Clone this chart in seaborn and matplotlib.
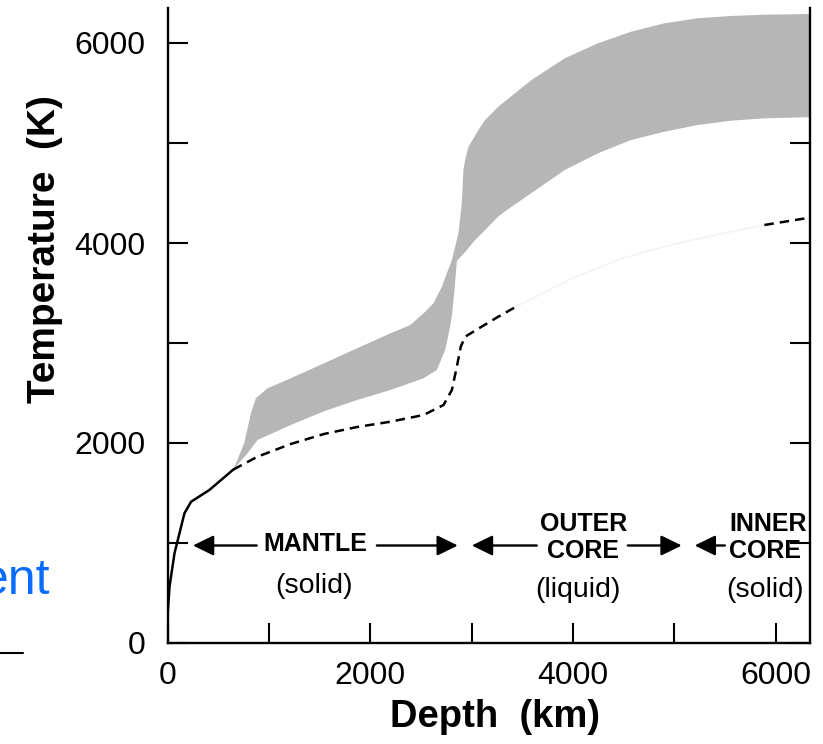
import numpy as np
import matplotlib
matplotlib.use("Agg")
import matplotlib.pyplot as plt
from matplotlib.lines import Line2D
import seaborn as sns

# Temperature profile through the Earth (depth in km, temperature in K)
geotherm_depth = [0, 20, 69, 118, 167, 233, 413, 650]
geotherm_temp = [270, 563, 897, 1097, 1297, 1413, 1530, 1735]

adiabat_depth = [650, 888, 1216, 1544, 1871, 2200, 2527, 2724, 2806, 2855,
                 2894, 2937, 3100, 3264, 3440]
adiabat_temp = [1735, 1863, 1990, 2090, 2160, 2213, 2280, 2380, 2530, 2763,
                2963, 3063, 3163, 3263, 3363]

core_trace_depth = [3440, 4000, 4500, 5000, 5500, 5890]
core_trace_temp = [3363, 3650, 3850, 3990, 4100, 4180]

inner_depth = [5890, 6340]
inner_temp = [4180, 4254]

# Melting-temperature band: upper and lower edges
band_upper_depth = [650, 757, 823, 872, 986, 1216, 1544, 1871, 2200, 2396,
                    2527, 2625, 2707, 2806, 2871, 2904, 2920, 2937, 2970, 3068,
                    3134, 3264, 3592, 3920, 4248, 4575, 4904, 5231, 5559, 5887,
                    6340]
band_upper_temp = [1735, 1997, 2297, 2447, 2547, 2647, 2797, 2947, 3097, 3180,
                   3297, 3397, 3563, 3830, 4097, 4397, 4730, 4830, 4963, 5130,
                   5230, 5363, 5630, 5847, 5997, 6113, 6197, 6247, 6270, 6283,
                   6290]
band_lower_depth = [650, 790, 888, 1216, 1544, 1871, 2200, 2527, 2658, 2740,
                    2789, 2810, 2822, 2835, 2855, 2937, 3035, 3134, 3264, 3363,
                    3592, 3920, 4248, 4575, 4904, 5231, 5559, 5887, 6340]
band_lower_temp = [1735, 1897, 2030, 2180, 2317, 2430, 2530, 2647, 2730, 2930,
                   3163, 3300, 3430, 3563, 3820, 3910, 4030, 4130, 4265, 4340,
                   4500, 4730, 4897, 5030, 5113, 5180, 5223, 5247, 5258]

x_ticks = [0, 1000, 2000, 3000, 4000, 5000, 6000]
x_tick_labels = ["0", "", "2000", "", "4000", "", "6000"]
y_ticks = [0, 1000, 2000, 3000, 4000, 5000, 6000]
y_tick_labels = ["0", "", "2000", "", "4000", "", "6000"]

sns.set_theme(style="ticks")
plt.rcParams["font.family"] = ["Liberation Sans", "DejaVu Sans"]
plt.rcParams.update({
    "text.color": "black",
    "axes.labelcolor": "black",
    "xtick.color": "black",
    "ytick.color": "black",
    "axes.edgecolor": "black",
})

W, H = 823, 744
fig = plt.figure(figsize=(W / 100, H / 100), dpi=100)
ax = fig.add_axes([167.5 / W, 1 - 643 / H, (810 - 167.5) / W, (643 - 8) / H])

# shaded band
poly_x = np.r_[band_upper_depth, band_lower_depth[::-1]]
poly_y = np.r_[band_upper_temp, band_lower_temp[::-1]]
ax.fill(poly_x, poly_y, color="#b6b6b6", lw=0, zorder=1)

# temperature curves
sns.lineplot(x=geotherm_depth, y=geotherm_temp, sort=False, estimator=None,
             ax=ax, color="black", lw=1.8, zorder=3)
sns.lineplot(x=adiabat_depth, y=adiabat_temp, sort=False, estimator=None,
             ax=ax, color="black", lw=1.8, linestyle=(0, (3.8, 2.4)), zorder=3)
sns.lineplot(x=core_trace_depth, y=core_trace_temp, sort=False, estimator=None,
             ax=ax, color="#f4f4f4", lw=1.2, zorder=2)
sns.lineplot(x=inner_depth, y=inner_temp, sort=False, estimator=None,
             ax=ax, color="black", lw=1.8, linestyle=(0, (3.8, 2.4)), zorder=3)

ax.set_xlim(0, 6340)
ax.set_ylim(0, 6350)
ax.set_xticks(x_ticks)
ax.set_xticklabels(x_tick_labels)
ax.set_yticks(y_ticks)
ax.set_yticklabels(y_tick_labels)

ax.tick_params(axis="both", direction="in", length=14.4, width=1.5,
               labelsize=23, colors="black")
ax.tick_params(axis="x", pad=13, top=False)
ax.tick_params(axis="y", pad=16, right=True)

for side in ("left", "bottom", "right"):
    ax.spines[side].set_linewidth(1.7)
    ax.spines[side].set_color("black")
ax.spines["top"].set_visible(False)

ax.set_xlabel("Depth  (km)", fontsize=27.5, fontweight="bold", color="black")
ax.set_ylabel("Temperature  (K)", fontsize=28, fontweight="bold",
              color="black")
ax.xaxis.set_label_coords(0.51, -0.088)
ax.yaxis.set_label_coords(-0.163, 0.621)

# region labels with arrows
arrow_kw = dict(arrowstyle="-|>,head_length=0.45,head_width=0.22",
                color="black", lw=1.7, shrinkA=0, shrinkB=0,
                mutation_scale=28)
arrow_T = 975
for tail, tip in [(880, 251), (2066, 2865), (3644, 3003), (4542, 5074),
                  (5500, 5202)]:
    ax.annotate("", xy=(tip, arrow_T), xytext=(tail, arrow_T),
                arrowprops=arrow_kw, zorder=4)

bold_kw = dict(fontsize=18, fontweight="bold", ha="center", va="center",
               color="black")
reg_kw = dict(fontsize=20.5, ha="center", va="center", color="black")
ax.text(1455, 990, "MANTLE", **bold_kw,
        bbox=dict(facecolor="white", edgecolor="none", pad=1))
ax.text(1445, 570, "(solid)", **reg_kw)
ax.text(4107, 1190, "OUTER", **bold_kw)
ax.text(4103, 920, "CORE", **bold_kw)
ax.text(4048, 530, "(liquid)", **reg_kw)
ax.text(5927, 1190, "INNER", **bold_kw)
ax.text(5893, 920, "CORE", **bold_kw)
ax.text(5893, 530, "(solid)", **reg_kw)

# slide fragments at the left edge
fig.text(50 / W, 1 - 594 / H, "ent", ha="right", va="baseline",
         fontsize=36, color="#0a6cff")
fig.add_artist(Line2D([0, 23 / W], [1 - 652.5 / H] * 2, color="black",
                      lw=1.5))

fig.savefig("out.png", dpi=100, facecolor="white")
